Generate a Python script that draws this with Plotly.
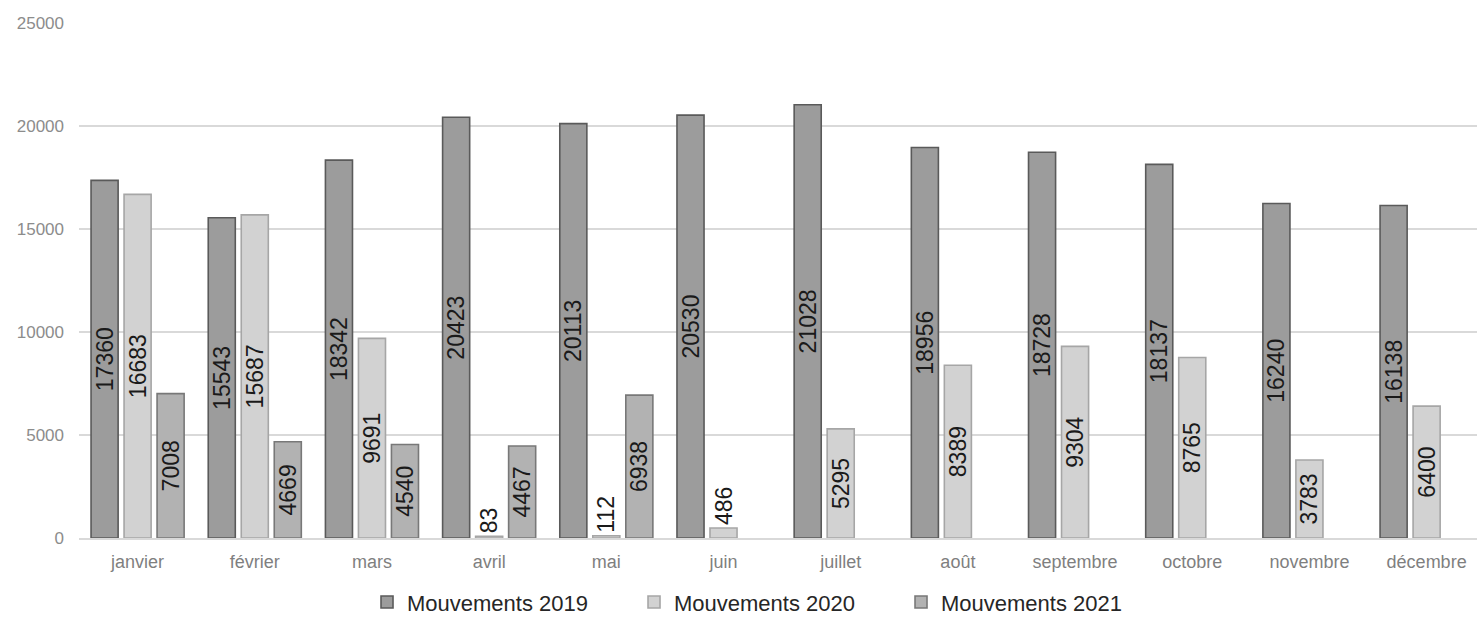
import plotly.graph_objects as go

months = ["janvier", "février", "mars", "avril", "mai", "juin", "juillet",
          "août", "septembre", "octobre", "novembre", "décembre"]
mv2019 = [17360, 15543, 18342, 20423, 20113, 20530, 21028, 18956, 18728, 18137, 16240, 16138]
mv2020 = [16683, 15687, 9691, 83, 112, 486, 5295, 8389, 9304, 8765, 3783, 6400]
mv2021 = [7008, 4669, 4540, 4467, 6938, None, None, None, None, None, None, None]

series = [
    ("Mouvements 2019", mv2019, "#9c9c9c", "#5a5a5a"),
    ("Mouvements 2020", mv2020, "#d2d2d2", "#a6a6a6"),
    ("Mouvements 2021", mv2021, "#b2b2b2", "#787878"),
]

fig = go.Figure()
for name, vals, fill, line in series:
    texts = ["" if v is None else str(v) for v in vals]
    pos = ["outside" if (v is not None and v < 1500) else "inside" for v in vals]
    fig.add_trace(go.Bar(
        name=name, x=months, y=vals,
        marker=dict(color=fill, line=dict(color=line, width=1.6)),
        text=texts, textposition=pos, textangle=-90,
        insidetextanchor="middle", constraintext="none",
        textfont=dict(family="Liberation Sans", size=23, color="#1a1a1a"),
        cliponaxis=False,
    ))

fig.update_layout(
    width=1477, height=617,
    margin=dict(l=79, r=0, t=23, b=79, autoexpand=False),
    paper_bgcolor="white", plot_bgcolor="white",
    barmode="group", bargap=0.155, bargroupgap=0.18,
    font=dict(family="Liberation Sans", color="#888888"),
    showlegend=True,
    legend=dict(orientation="h", x=0.4925, xanchor="center",
                yref="container", y=0.024, yanchor="middle",
                font=dict(size=22, color="#262626"), traceorder="normal",
                itemwidth=30, entrywidth=222, entrywidthmode="pixels"),
    xaxis=dict(range=[-0.5, 11.43], showgrid=False, showline=True, linecolor="#d9d9d9",
               linewidth=1.5, ticks="", automargin=False, ticklabelstandoff=7,
               tickfont=dict(size=18, color="#7f7f7f")),
    yaxis=dict(range=[0, 25000], dtick=5000, tickformat="d", showgrid=True,
               gridcolor="#d9d9d9", automargin=False,
               gridwidth=1.5, zeroline=False, showline=False, ticks="",
               ticklabelstandoff=14, tickfont=dict(size=17, color="#8c8c8c")),
)

fig.write_html("out.html")
